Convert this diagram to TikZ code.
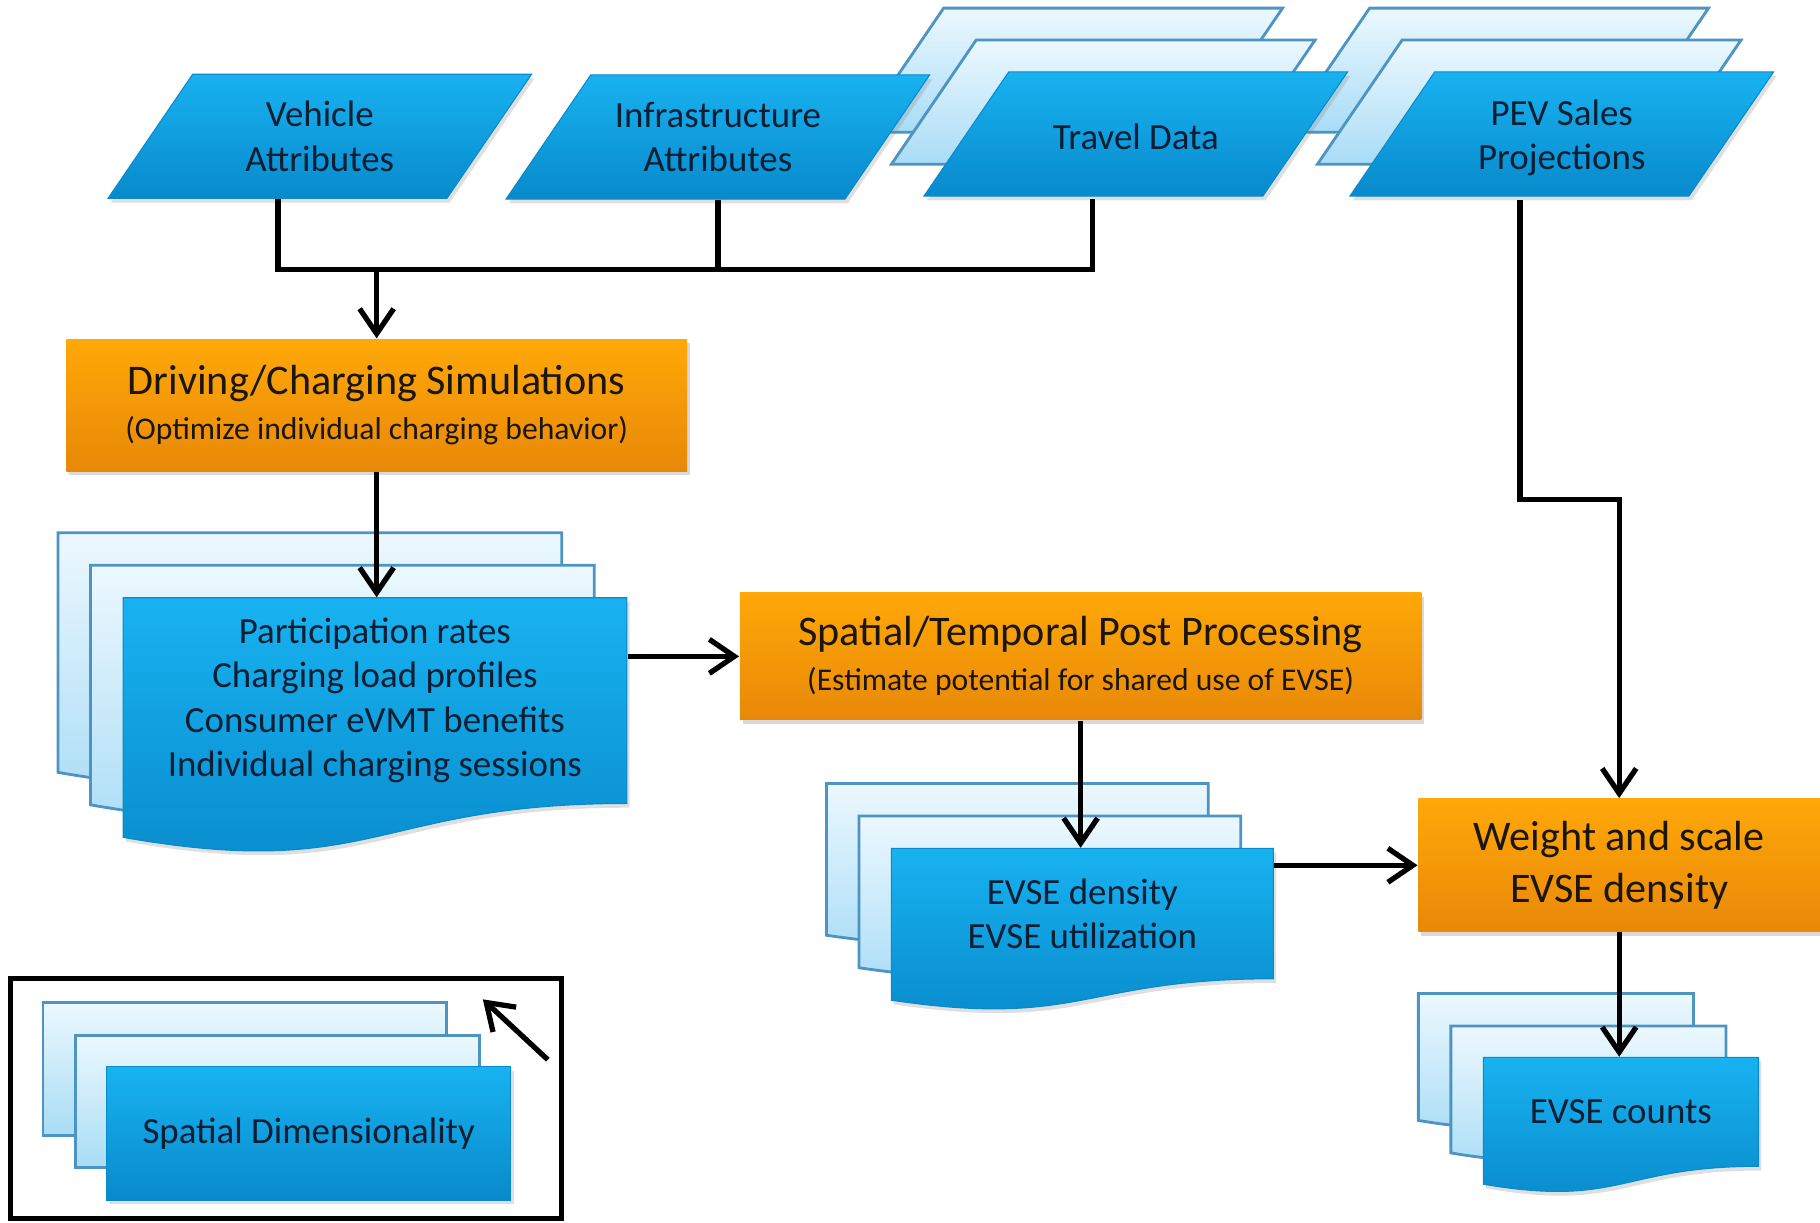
\documentclass[tikz,border=0pt]{standalone}
\usepackage{fontspec}
\setmainfont{Carlito}
\usepackage{xcolor}
\usepackage{tikz}
\usetikzlibrary{arrows.meta, positioning, calc, shadows}
\definecolor{bluetop}{RGB}{24,178,240}
\definecolor{bluebot}{RGB}{8,138,204}
\definecolor{paletop}{RGB}{236,248,254}
\definecolor{palebot}{RGB}{168,220,246}
\definecolor{paleedge}{RGB}{78,148,194}
\definecolor{orangetop}{RGB}{255,168,8}
\definecolor{orangebot}{RGB}{232,136,8}
\definecolor{navytext}{RGB}{10,30,52}
\definecolor{darktext}{RGB}{26,22,12}

\begin{document}
\begin{tikzpicture}[
    x=0.011607cm, y=-0.011607cm,
    fronts/.style={top color=bluetop, bottom color=bluebot, draw=bluebot, line width=0.3pt,
                   drop shadow={shadow xshift=0.8pt, shadow yshift=-1.2pt, opacity=0.25}},
    backs/.style={top color=paletop, bottom color=palebot, draw=paleedge, line width=0.8pt},
    proc/.style={rectangle, top color=orangetop, bottom color=orangebot, align=center,
                 text=darktext, inner sep=0pt, font=\fontsize{12}{12.8}\selectfont,
                 drop shadow={shadow xshift=0.8pt, shadow yshift=-1.2pt, opacity=0.3}},
    txt/.style={align=center, text=navytext, inner sep=0pt, font=\fontsize{10.5}{12.6}\selectfont},
    line/.style={line width=1.5pt, black},
    flow/.style={line, -{Straight Barb[length=2.5mm, width=3.4mm]}}
]
\useasboundingbox (0,0) rectangle (1568,1053);

% input data (parallelograms)
\foreach \cx/\cy in {1289.5/60.5, 1317.5/88, 922.5/60.5, 950.5/88}
  \path[backs] ({\cx-109.5},{\cy-53.5}) -- ({\cx+182.5},{\cy-53.5})
               -- ({\cx+109.5},{\cy+53.5}) -- ({\cx-182.5},{\cy+53.5}) -- cycle;
\foreach \cx/\cy in {1345.5/115.5, 978.5/115.5, 275.5/117.5, 618.5/118}
  \path[fronts] ({\cx-109.5},{\cy-53.5}) -- ({\cx+182.5},{\cy-53.5})
                -- ({\cx+109.5},{\cy+53.5}) -- ({\cx-182.5},{\cy+53.5}) -- cycle;

% output documents
\foreach \x/\y/\w/\h in {50/459/434/221, 78/487/434/221, 712/675/329/140, 740/703/329/140,
                         1222/856/237/117, 1250/884/237/117}
  \path[backs] (\x,\y) -- ({\x+\w},\y) -- ({\x+\w},{\y+0.802*\h})
               .. controls ({\x+0.5*\w},{\y+0.802*\h}) and ({\x+0.5*\w},{\y+1.107*\h}) .. (\x,{\y+0.934*\h}) -- cycle;
\foreach \x/\y/\w/\h in {106/515/434/221, 768/731/329/140, 1278/911/237/117}
  \path[fronts] (\x,\y) -- ({\x+\w},\y) -- ({\x+\w},{\y+0.802*\h})
                .. controls ({\x+0.5*\w},{\y+0.802*\h}) and ({\x+0.5*\w},{\y+1.107*\h}) .. (\x,{\y+0.934*\h}) -- cycle;

% legend
\draw[line width=1.5pt] (9,843) rectangle (484,1050);
\foreach \x/\y in {37/864, 65/892}
  \path[backs] (\x,\y) rectangle ++(348,114);
\path[fronts] (92,919) rectangle ++(348,115);

\node[txt, minimum width=3.4cm, minimum height=1.24cm] (va)  at (275.5,117.5) {Vehicle\\Attributes};
\node[txt, minimum width=3.4cm, minimum height=1.24cm] (ia)  at (618.5,118)   {Infrastructure\\Attributes};
\node[txt, minimum width=3.4cm, minimum height=1.24cm] (td)  at (978.5,117.5) {Travel Data};
\node[txt, minimum width=3.4cm, minimum height=1.24cm] (pev) at (1345.5,118.5) {PEV Sales\\Projections};

\node[proc, minimum width=6.21cm, minimum height=1.32cm] (dcs) at (324.5,349)
  {Driving/Charging Simulations\\{\fontsize{9}{11}\selectfont (Optimize individual charging behavior)}};
\node[proc, minimum width=6.82cm, minimum height=1.27cm] (stpp) at (931,565.5)
  {Spatial/Temporal Post Processing\\{\fontsize{9}{11}\selectfont (Estimate potential for shared use of EVSE)}};
\node[proc, minimum width=4.02cm, minimum height=1.33cm, font=\fontsize{12}{14.8}\selectfont] (wse) at (1395,745.5)
  {Weight and scale\\EVSE density};

\node[txt, minimum width=5.04cm, minimum height=2.05cm] (out) at (323,603.5)
  {Participation rates\\Charging load profiles\\Consumer eVMT benefits\\Individual charging sessions};
\node[txt, minimum width=3.82cm, minimum height=1.30cm] (evd) at (932.5,787) {EVSE density\\EVSE utilization};
\node[txt, minimum width=2.75cm, minimum height=1.09cm] (evc) at (1396.5,958) {EVSE counts};
\node[txt, minimum width=4.04cm, minimum height=1.33cm] (leg) at (266,976.5) {Spatial Dimensionality};

\coordinate (jn) at (dcs.north |- 0,232);
\draw[line] ($(va.south)+(-36,0)$) |- (jn) -| ($(td.south)+(-37,0)$);
\draw[line] (ia.south) -- (ia.south |- jn);
\draw[flow] (jn) -- (dcs.north);
\draw[flow] (dcs.south) -- (dcs.south |- out.north);
\draw[flow] (out.east |- stpp.west) -- (stpp.west);
\draw[flow] (stpp.south) -- (stpp.south |- evd.north);
\draw[flow] (evd.east |- wse.west) -- (wse.west);
\draw[flow] ($(pev.south)+(-36,0)$) -- ++(0,258) -| (wse.north);
\draw[flow] (wse.south) -- (wse.south |- evc.north);

\coordinate (ltail) at (472,913);
\coordinate (lhead) at (416,861);
\draw[flow] (ltail) -- (lhead);
\end{tikzpicture}
\end{document}
